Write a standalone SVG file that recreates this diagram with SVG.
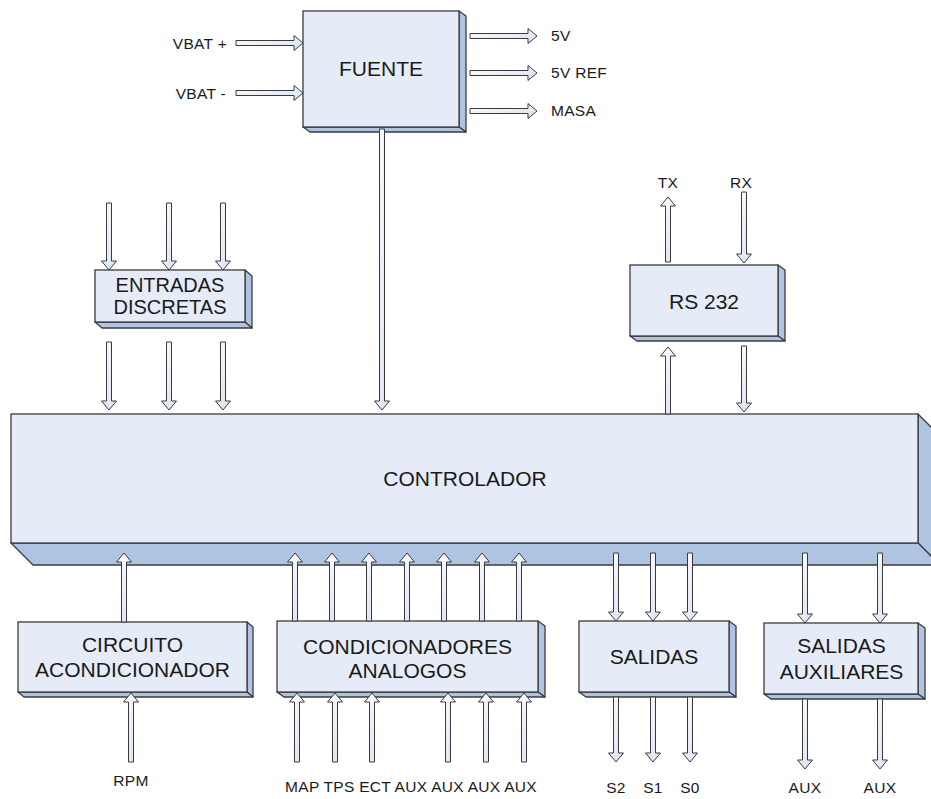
<svg xmlns="http://www.w3.org/2000/svg" width="931" height="799" viewBox="0 0 931 799">
<defs>
<linearGradient id="ag" x1="0" y1="0" x2="1" y2="1">
<stop offset="0" stop-color="#ffffff"/>
<stop offset="1" stop-color="#d6e0f0"/>
</linearGradient>
<style>
.front{fill:#e5ecf7;stroke:#3c3c3c;stroke-width:1.3}
.side{fill:#afc3e3;stroke:#3c3c3c;stroke-width:1.3;stroke-linejoin:round}
.arr{fill:url(#ag);stroke:#3a3a3a;stroke-width:1}
.bt{font-family:"Liberation Sans",Arial,sans-serif;font-size:21px;fill:#1a1a1a;text-anchor:middle}
.lb{font-family:"Liberation Sans",Arial,sans-serif;font-size:15.5px;letter-spacing:0.3px;fill:#1a1a1a}
.c{text-anchor:middle}
.e{text-anchor:end}
</style>
</defs>
<rect width="931" height="799" fill="#ffffff"/>

<g id="controlador">
<polygon class="side" points="918,414 940,436 940,565 918,543"/>
<polygon class="side" points="11,543 33,565 940,565 918,543"/>
<rect class="front" x="11" y="414" width="907" height="129"/>
<text class="bt" x="465" y="486">CONTROLADOR</text>
</g>

<g id="fuente">
<polygon class="side" points="459,11 466,16 466,132 459,127"/>
<polygon class="side" points="303,127 310,132 466,132 459,127"/>
<rect class="front" x="303" y="11" width="156" height="116"/>
<text class="bt" x="381" y="76">FUENTE</text>
</g>

<g id="entradas">
<polygon class="side" points="245,270 252,276 252,328 245,322"/>
<polygon class="side" points="95,322 102,328 252,328 245,322"/>
<rect class="front" x="95" y="270" width="150" height="52"/>
<text class="bt" x="170" y="291.5" style="font-size:20px">ENTRADAS</text>
<text class="bt" x="170" y="314" style="font-size:20px">DISCRETAS</text>
</g>

<g id="rs232">
<polygon class="side" points="778,265 785,270 785,341 778,336"/>
<polygon class="side" points="630,336 637,341 785,341 778,336"/>
<rect class="front" x="630" y="265" width="148" height="71"/>
<text class="bt" x="704" y="308.5">RS 232</text>
</g>

<g id="circuito">
<polygon class="side" points="247,622 253,627 253,697 247,692"/>
<polygon class="side" points="18,692 24,697 253,697 247,692"/>
<rect class="front" x="18" y="622" width="229" height="70"/>
<text class="bt" x="132.5" y="652">CIRCUITO</text>
<text class="bt" x="132.5" y="676.5">ACONDICIONADOR</text>
</g>

<g id="condicionadores">
<polygon class="side" points="538,621 545,626 545,697 538,692"/>
<polygon class="side" points="277,692 284,697 545,697 538,692"/>
<rect class="front" x="277" y="621" width="261" height="71"/>
<text class="bt" x="407.5" y="654">CONDICIONADORES</text>
<text class="bt" x="407.5" y="677.5">ANALOGOS</text>
</g>

<g id="salidas">
<polygon class="side" points="729,621 736,626 736,697 729,692"/>
<polygon class="side" points="579,692 586,697 736,697 729,692"/>
<rect class="front" x="579" y="621" width="150" height="71"/>
<text class="bt" x="654" y="663.5">SALIDAS</text>
</g>

<g id="salidas-auxiliares">
<polygon class="side" points="918,623 925,628 925,699 918,694"/>
<polygon class="side" points="764,694 771,699 925,699 918,694"/>
<rect class="front" x="764" y="623" width="154" height="71"/>
<text class="bt" x="841.5" y="652.5">SALIDAS</text>
<text class="bt" x="841.5" y="678.5">AUXILIARES</text>
</g>

<g id="connectors">
<path class="arr" d="M236,40.5H294V35.5L303,43L294,50.5V45.5H236Z"/>
<path class="arr" d="M236,90.5H294V85.5L303,93L294,100.5V95.5H236Z"/>
<path class="arr" d="M470,33.5H528V28.5L537,36L528,43.5V38.5H470Z"/>
<path class="arr" d="M470,70.5H528V65.5L537,73L528,80.5V75.5H470Z"/>
<path class="arr" d="M470,108.5H528V103.5L537,111L528,118.5V113.5H470Z"/>
<path class="arr" d="M379.5,129H384.5V401H389.5L382,410L374.5,401H379.5Z"/>
<path class="arr" d="M106.5,203H111.5V261H116.5L109,270L101.5,261H106.5Z"/>
<path class="arr" d="M166.5,203H171.5V261H176.5L169,270L161.5,261H166.5Z"/>
<path class="arr" d="M220.5,203H225.5V261H230.5L223,270L215.5,261H220.5Z"/>
<path class="arr" d="M106.5,342H111.5V401H116.5L109,410L101.5,401H106.5Z"/>
<path class="arr" d="M166.5,342H171.5V401H176.5L169,410L161.5,401H166.5Z"/>
<path class="arr" d="M220.5,342H225.5V401H230.5L223,410L215.5,401H220.5Z"/>
<path class="arr" d="M665.5,262H670.5V206H675.5L668,197L660.5,206H665.5Z"/>
<path class="arr" d="M741.5,192H746.5V254H751.5L744,263L736.5,254H741.5Z"/>
<path class="arr" d="M665.5,414H670.5V356H675.5L668,347L660.5,356H665.5Z"/>
<path class="arr" d="M741.5,346H746.5V403H751.5L744,412L736.5,403H741.5Z"/>
<path class="arr" d="M121.5,622H126.5V562H131.5L124,553L116.5,562H121.5Z"/>
<path class="arr" d="M128.5,762H133.5V702H138.5L131,693L123.5,702H128.5Z"/>
<path class="arr" d="M292.5,621H297.5V562H302.5L295,553L287.5,562H292.5Z"/>
<path class="arr" d="M329.5,621H334.5V562H339.5L332,553L324.5,562H329.5Z"/>
<path class="arr" d="M366.5,621H371.5V562H376.5L369,553L361.5,562H366.5Z"/>
<path class="arr" d="M404.5,621H409.5V562H414.5L407,553L399.5,562H404.5Z"/>
<path class="arr" d="M441.5,621H446.5V562H451.5L444,553L436.5,562H441.5Z"/>
<path class="arr" d="M479.5,621H484.5V562H489.5L482,553L474.5,562H479.5Z"/>
<path class="arr" d="M516.5,621H521.5V562H526.5L519,553L511.5,562H516.5Z"/>
<path class="arr" d="M294.5,762H299.5V702H304.5L297,693L289.5,702H294.5Z"/>
<path class="arr" d="M332.5,762H337.5V702H342.5L335,693L327.5,702H332.5Z"/>
<path class="arr" d="M369.5,762H374.5V702H379.5L372,693L364.5,702H369.5Z"/>
<path class="arr" d="M445.5,762H450.5V702H455.5L448,693L440.5,702H445.5Z"/>
<path class="arr" d="M483.5,762H488.5V702H493.5L486,693L478.5,702H483.5Z"/>
<path class="arr" d="M521.5,762H526.5V702H531.5L524,693L516.5,702H521.5Z"/>
<path class="arr" d="M613.5,553H618.5V612H623.5L616,621L608.5,612H613.5Z"/>
<path class="arr" d="M650.5,553H655.5V612H660.5L653,621L645.5,612H650.5Z"/>
<path class="arr" d="M687.5,553H692.5V612H697.5L690,621L682.5,612H687.5Z"/>
<path class="arr" d="M613.5,697H618.5V753H623.5L616,762L608.5,753H613.5Z"/>
<path class="arr" d="M650.5,697H655.5V753H660.5L653,762L645.5,753H650.5Z"/>
<path class="arr" d="M687.5,697H692.5V753H697.5L690,762L682.5,753H687.5Z"/>
<path class="arr" d="M802.5,553H807.5V614H812.5L805,623L797.5,614H802.5Z"/>
<path class="arr" d="M877.5,553H882.5V614H887.5L880,623L872.5,614H877.5Z"/>
<path class="arr" d="M802.5,699H807.5V760H812.5L805,769L797.5,760H802.5Z"/>
<path class="arr" d="M877.5,699H882.5V760H887.5L880,769L872.5,760H877.5Z"/>
</g>

<g id="labels">
<text class="lb e" x="227" y="49">VBAT +</text>
<text class="lb e" x="226" y="99">VBAT -</text>
<text class="lb" x="551" y="41">5V</text>
<text class="lb" x="551" y="78">5V REF</text>
<text class="lb" x="551" y="116">MASA</text>
<text class="lb c" x="668" y="188">TX</text>
<text class="lb c" x="741" y="188">RX</text>
<text class="lb c" x="131" y="786">RPM</text>
<text class="lb c" x="411" y="792">MAP TPS ECT AUX AUX AUX AUX</text>
<text class="lb c" x="616" y="793">S2</text>
<text class="lb c" x="653" y="793">S1</text>
<text class="lb c" x="690" y="793">S0</text>
<text class="lb c" x="805" y="793">AUX</text>
<text class="lb c" x="880" y="793">AUX</text>
</g>
</svg>
